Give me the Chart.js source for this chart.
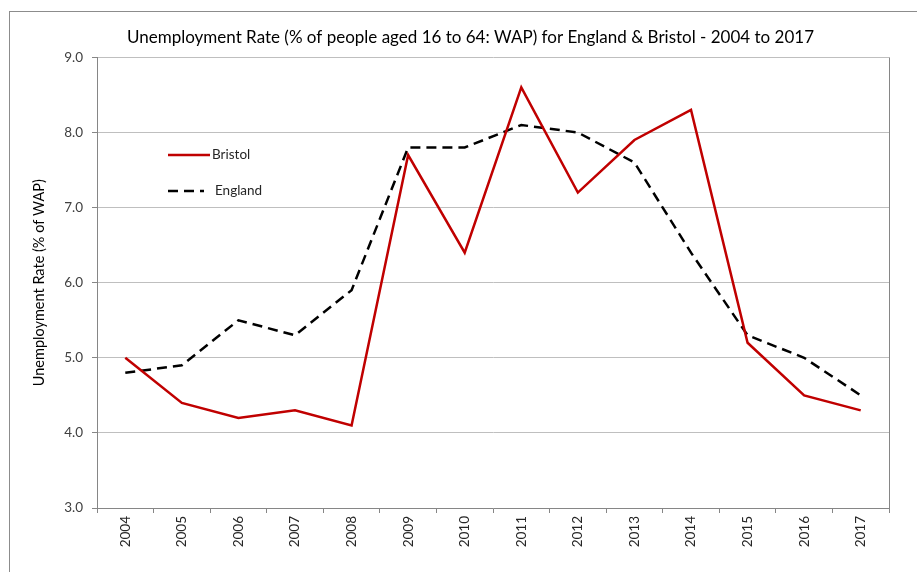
<!DOCTYPE html>
<html>
<head>
<meta charset="utf-8">
<script src="https://cdn.jsdelivr.net/npm/chart.js@4.4.1/dist/chart.umd.min.js"></script>
<style>
    body { margin: 0; background: #fff; }
    #wrap { position: relative; width: 917px; height: 572px; overflow: hidden; }
    #frame { position: absolute; left: 9px; top: 11px; width: 2000px; height: 2000px;
             border-left: 1px solid #8c8c8c; border-top: 1px solid #8c8c8c; }
    canvas { position: absolute; left: 0; top: 0; }
</style>
</head>
<body>
<div id="wrap">
    <div id="frame"></div>
    <canvas id="chart" width="917" height="572"></canvas>
</div>
<script>
// dados do gráfico
const years = ['2004', '2005', '2006', '2007', '2008', '2009', '2010', '2011', '2012', '2013', '2014', '2015', '2016', '2017'];
const bristol = [5.0, 4.4, 4.2, 4.3, 4.1, 7.7, 6.4, 8.6, 7.2, 7.9, 8.3, 5.2, 4.5, 4.3];
const england = [4.8, 4.9, 5.5, 5.3, 5.9, 7.8, 7.8, 8.1, 8.0, 7.6, 6.4, 5.3, 5.0, 4.5];
const yMin = 3.0;
const yMax = 9.0;

const FONT = 'Lato, "Open Sans", sans-serif';

// legenda desenhada dentro da área do gráfico
const insideLegend = {
    id: 'insideLegend',
    afterDraw(chart) {
        const ctx = chart.ctx;
        const rows = [{ y: 155, x0: 168, x1: 210, tx: 212 }, { y: 191, x0: 168, x1: 204, tx: 215 }];
        chart.data.datasets.forEach((ds, i) => {
            const r = rows[i];
            ctx.save();
            ctx.strokeStyle = ds.borderColor;
            ctx.lineWidth = ds.borderWidth;
            ctx.setLineDash(ds.borderDash || []);
            ctx.beginPath();
            ctx.moveTo(r.x0, r.y);
            ctx.lineTo(r.x1, r.y);
            ctx.stroke();
            ctx.setLineDash([]);
            ctx.fillStyle = '#262626';
            ctx.font = '13.5px ' + FONT;
            ctx.textBaseline = 'middle';
            ctx.fillText(ds.label, r.tx, r.y);
            ctx.restore();
        });
    }
};

// linha da borda direita da área do gráfico
const rightFrame = {
    id: 'rightFrame',
    afterDatasetsDraw(chart) {
        const { ctx, chartArea } = chart;
        ctx.save();
        ctx.strokeStyle = '#868686';
        ctx.lineWidth = 1;
        ctx.beginPath();
        ctx.moveTo(chartArea.right + 0.5, chartArea.top);
        ctx.lineTo(chartArea.right + 0.5, chartArea.bottom);
        ctx.stroke();
        ctx.restore();
    }
};

new Chart(document.getElementById('chart').getContext('2d'), {
    type: 'line',
    data: {
        labels: years,
        datasets: [{
            label: 'Bristol',
            data: bristol,
            borderColor: '#c00000',
            borderWidth: 2.5,
            pointRadius: 0,
            tension: 0
        }, {
            label: 'England',
            data: england,
            borderColor: '#000000',
            borderWidth: 2.5,
            borderDash: [10, 6],
            pointRadius: 0,
            tension: 0
        }]
    },
    options: {
        responsive: false,
        animation: false,
        layout: { padding: { left: 52, right: 28, top: 0, bottom: 0 } },
        plugins: {
            legend: { display: false },
            tooltip: { enabled: false },
            title: {
                display: true,
                text: 'Unemployment Rate (% of people aged 16 to 64: WAP) for England & Bristol - 2004 to 2017',
                color: '#000000',
                font: { family: FONT, size: 17, weight: 'normal' },
                padding: { top: 27, bottom: 10 }
            }
        },
        scales: {
            x: {
                offset: true,
                grid: {
                    offset: true,
                    drawOnChartArea: false,
                    tickLength: 5,
                    color: '#868686'
                },
                border: { color: '#868686' },
                ticks: {
                    minRotation: 90,
                    maxRotation: 90,
                    autoSkip: false,
                    padding: 3,
                    color: '#262626',
                    font: { family: FONT, size: 13.5 }
                },
                afterFit(scale) { scale.height = 64; }
            },
            y: {
                min: yMin,
                max: yMax,
                grid: {
                    color: '#bfbfbf',
                    tickLength: 5,
                    tickColor: '#868686'
                },
                border: { color: '#868686' },
                ticks: {
                    stepSize: 1,
                    padding: 9,
                    color: '#404040',
                    font: { family: FONT, size: 13.5 },
                    callback: v => v.toFixed(1)
                },
                title: {
                    display: true,
                    text: 'Unemployment Rate (% of WAP)',
                    color: '#000000',
                    font: { family: FONT, size: 14.5 },
                    padding: { top: -21, bottom: 0 }
                },
                afterFit(scale) { scale.width = 45; }
            }
        }
    },
    plugins: [insideLegend, rightFrame]
});
</script>
</body>
</html>
